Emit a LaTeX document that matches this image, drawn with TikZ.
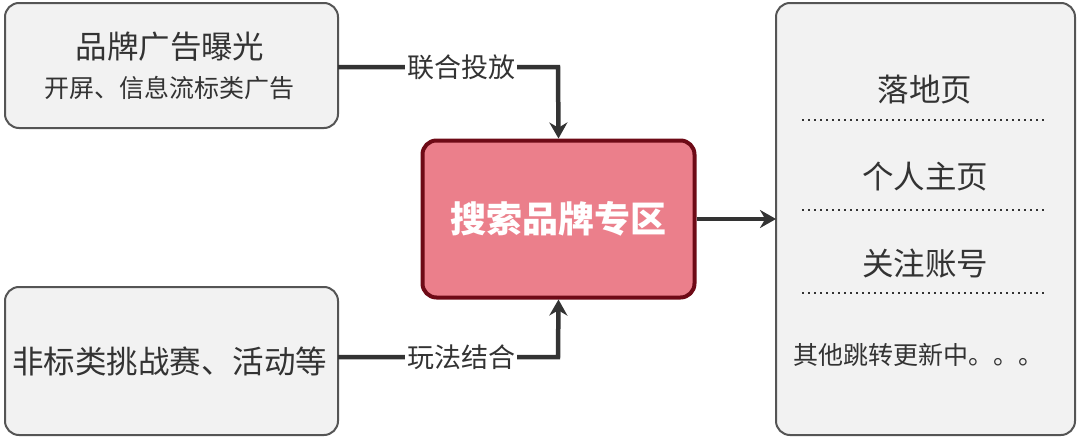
\documentclass[tikz,border=0pt]{standalone}
\usepackage{fontspec}
\setmainfont{Noto Sans CJK SC}
\usetikzlibrary{arrows.meta}
\definecolor{boxfill}{HTML}{F2F2F2}
\definecolor{boxline}{HTML}{555555}
\definecolor{redfill}{HTML}{EB7F8B}
\definecolor{redline}{HTML}{6E0A16}
\definecolor{conn}{HTML}{333333}
\begin{document}
\begin{tikzpicture}[x=1pt,y=-1pt,
  graybox/.style={draw=boxline,fill=boxfill,line width=2pt,rounded corners=14pt},
  conline/.style={draw=conn,line width=4.5pt},
  arr/.style={conline,-{Stealth[length=16pt,width=18pt]}},
  lab/.style={fill=white,inner sep=2pt,font=\fontsize{27}{31}\selectfont,text=conn},
  dots/.style={draw=conn,line width=2pt,dash pattern=on 2pt off 4pt}]
\useasboundingbox (0,0) rectangle (1080,439);
\draw[graybox] (5,3) rectangle (338,128);
\draw[graybox] (5,287) rectangle (338,435);
\draw[graybox] (776,3) rectangle (1075,435);
\node[draw=redline,fill=redfill,line width=4pt,rounded corners=14pt,minimum width=272pt,minimum height=157pt,font=\fontsize{36}{40}\selectfont\bfseries,text=white] (c) at (558.5,219) {搜索品牌专区};
\node[font=\fontsize{31.5}{35}\selectfont,text=conn] (t1) at (170,47) {品牌广告曝光};
\node[font=\fontsize{25}{29}\selectfont,text=conn] (t2) at (170,88) {开屏、信息流标类广告};
\node[font=\fontsize{31.5}{35}\selectfont,text=conn] (b1) at (170,361) {非标类挑战赛、活动等};
\coordinate (a1) at (338,67);
\coordinate (a2) at (558,67);
\coordinate (b2) at (338,357);
\coordinate (b3) at (558,357);
\draw[arr] (a1) -- (a2) -- (c.north);
\draw[arr] (b2) -- (b3) -- (c.south);
\node[lab] (l1) at (461,67) {联合投放};
\node[lab] (l2) at (461,357) {玩法结合};
\coordinate (r) at (776,219);
\draw[arr] (c.east) -- (r);
\node[font=\fontsize{31.5}{35}\selectfont,text=conn] (p1) at (925,90) {落地页};
\node[font=\fontsize{31.5}{35}\selectfont,text=conn] (p2) at (925,177) {个人主页};
\node[font=\fontsize{31.5}{35}\selectfont,text=conn] (p3) at (925,264) {关注账号};
\node[font=\fontsize{25}{29}\selectfont,text=conn] (p4) at (918,355) {其他跳转更新中。。。};
\draw[dots] (802,120) -- (1046,120);
\draw[dots] (802,210) -- (1046,210);
\draw[dots] (802,293) -- (1046,293);
\end{tikzpicture}
\end{document}
